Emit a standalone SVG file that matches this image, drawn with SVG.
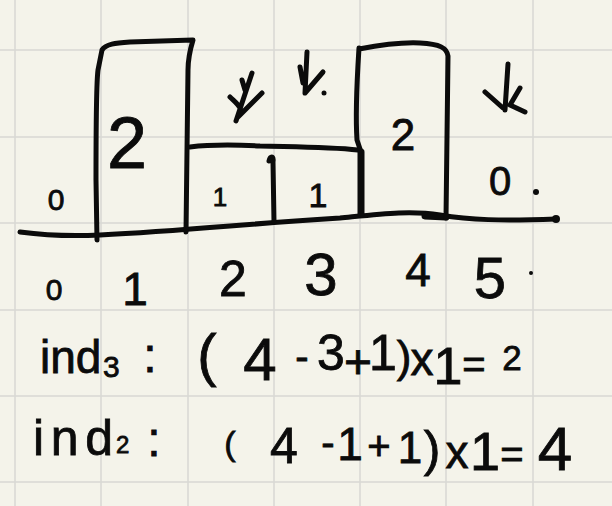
<svg xmlns="http://www.w3.org/2000/svg" width="612" height="506" viewBox="0 0 612 506">
<style>
.grid{stroke:#d8d8d4;stroke-width:1.5;fill:none}
.ink{stroke:#0b0b0b;stroke-width:5;fill:none;stroke-linecap:round;stroke-linejoin:round}
.thick{stroke-width:7}
.t{font-family:"Liberation Sans","DejaVu Sans",sans-serif;fill:#0b0b0b;text-anchor:middle;stroke:#0b0b0b;stroke-width:0.8}
.l{text-anchor:start}
</style>
<rect width="612" height="506" fill="#f4f3ea"/>
<g id="grid">
<path class="grid" d="M15,0V506M101,0V506M188,0V506M274,0V506M360,0V506M446,0V506M533,0V506M0,50H612M0,137H612M0,223H612M0,310H612M0,396H612M0,482H612"/>
</g>
<g id="bars">
<path id="baseline" class="ink" d="M20,232 C50,236 80,236 100,235 C140,233 180,230 230,226 C280,222 310,220 340,218 C380,214 410,210 440,215 C470,220 500,221 556,219"/>
<circle cx="556" cy="219" r="4" fill="#0b0b0b"/>
<path class="ink thick" d="M425,216 L446,217"/>
<g id="bar1"><path class="ink" d="M97,240 L96,180 C96,120 96,85 98,70 L102,50 C106,44 115,43 130,42 L193,40 C190,50 188,58 188,70 L186,232"/></g>
<g id="bar2"><path class="ink" d="M190,147 C215,144 240,145 260,146 C300,147 330,147 358,150"/></g>
<g id="bar3"><path class="ink" d="M269,161 C270,156 274,155 273,162 L274,222"/></g>
<g id="bar4"><path class="ink" d="M359,48 C357,80 355,110 357,140 L361,152 M359,49 C380,45 400,42 420,43 C440,44 447,48 448,56 L446,218"/><path class="ink thick" d="M361,152 L361,214"/></g>
</g>
<g id="arrows">
<path class="ink" stroke-width="4" d="M252,73 L236,121 M230,97 C234,101 238,104 240,108 M262,93 L238,117 M242,80 L245,90"/>
<path class="ink" stroke-width="4" d="M307,52 L305,93 L323,72 M300,67 L303,83"/>
<circle cx="324" cy="93" r="2.5" fill="#0b0b0b"/>
<path class="ink" stroke-width="4" d="M508,64 L505,110 M485,92 L503,108 M520,88 L510,105 L525,112"/>
</g>
<g id="heights">
<text class="t" x="127" y="168" font-size="72">2</text>
<text class="t" x="220" y="206" font-size="26">1</text>
<text class="t" x="318" y="207" font-size="34">1</text>
<text class="t" x="403" y="150" font-size="44">2</text>
<text class="t" x="56" y="210" font-size="30">0</text>
<text class="t" x="500" y="195" font-size="40">0</text>
<circle cx="536" cy="192" r="3" fill="#0b0b0b"/>
</g>
<g id="indices">
<text class="t" x="54" y="300" font-size="30">0</text>
<text class="t" x="135" y="305" font-size="46">1</text>
<text class="t" x="233" y="296" font-size="50">2</text>
<text class="t" x="321" y="295" font-size="60">3</text>
<text class="t" x="418" y="286" font-size="46">4</text>
<text class="t" x="490" y="298" font-size="58">5</text>
<circle cx="531" cy="273" r="2" fill="#0b0b0b"/>
</g>
<g id="formula1">
<text class="t l" x="40" y="373" font-size="46">ind</text>
<text class="t l" x="103" y="377" font-size="30">3</text>
<text class="t" x="150" y="372" font-size="48">:</text>
<text class="t" x="207" y="375" font-size="58">(</text>
<text class="t" x="260" y="380" font-size="60">4</text>
<text class="t" x="302" y="370" font-size="40">-</text>
<text class="t" x="331" y="370" font-size="50">3</text>
<text class="t" x="358" y="378" font-size="48">+</text>
<text class="t" x="383" y="370" font-size="50">1</text>
<text class="t" x="404" y="372" font-size="44">)</text>
<text class="t" x="422" y="375" font-size="46">x</text>
<text class="t" x="448" y="384" font-size="52">1</text>
<text class="t" x="474" y="378" font-size="40">=</text>
<text class="t" x="512" y="370" font-size="35">2</text>
</g>
<g id="formula2">
<text class="t l" x="33" y="455" font-size="50" textLength="80">ind</text>
<text class="t l" x="116" y="453" font-size="24">2</text>
<text class="t" x="154" y="456" font-size="48">:</text>
<text class="t" x="230" y="455" font-size="34">(</text>
<text class="t" x="284" y="463" font-size="50">4</text>
<text class="t" x="328" y="456" font-size="40">-</text>
<text class="t" x="350" y="460" font-size="46">1</text>
<text class="t" x="379" y="460" font-size="40">+</text>
<text class="t" x="410" y="463" font-size="44">1</text>
<text class="t" x="432" y="466" font-size="50">)</text>
<text class="t" x="457" y="468" font-size="46">x</text>
<text class="t" x="485" y="470" font-size="54">1</text>
<text class="t" x="512" y="468" font-size="40">=</text>
<text class="t" x="555" y="470" font-size="62">4</text>
</g>
</svg>
